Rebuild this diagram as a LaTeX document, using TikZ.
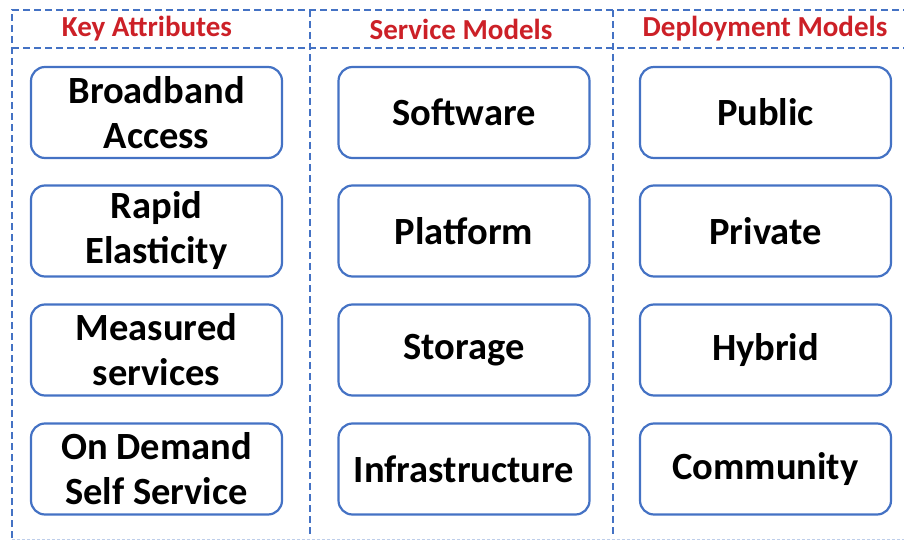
\documentclass[tikz,border=0pt]{standalone}
\usepackage{fontspec}
\setmainfont{Carlito}
\usetikzlibrary{positioning}

\definecolor{frameblue}{RGB}{68,114,196}
\definecolor{headred}{RGB}{204,32,39}

\begin{document}
\begin{tikzpicture}[x=1pt,y=-1pt,
                    item/.style={draw=frameblue,line width=2.2pt,rounded corners=14pt,minimum width=251pt,minimum height=91pt,
                                 align=center,font=\fontsize{38.5}{45}\selectfont\bfseries},
                    heading/.style={text=headred,font=\fontsize{29}{33}\selectfont\bfseries},
                    divider/.style={draw=frameblue,line width=2.3pt,dash pattern=on 7pt off 4pt},
                   ]
  \useasboundingbox (0,0) rectangle (904,540);

  % frame and column dividers
  \draw[divider] (12,538) -- (12,10) -- (904,10);
  \draw[divider] (12,48) -- (904,48);
  \draw[divider] (310,10) -- (310,536);
  \draw[divider] (613,10) -- (613,536);
  \draw[draw=frameblue!35,line width=1pt,dash pattern=on 3pt off 2pt] (12,539) -- (904,539);

  \node[heading] (attributes) at (147,29) {Key Attributes};
  \node[heading] (service) at (461,29) {Service Models};
  \node[heading] (deployment) at (765,29) {Deployment Models};

  \node[item] (broadband) at (156.5,112.5) {Broadband\\Access};
  \node[item] (elasticity) at (156.5,231) {Rapid\\Elasticity};
  \node[item] (measured) at (156.5,350) {Measured\\services};
  \node[item] (ondemand) at (156.5,469) {On Demand\\Self Service};

  \node[item] (software) at (464,112.5) {Software};
  \node[item] (platform) at (464,231) {Platform};
  \node[item] (storage) at (464,350) {Storage};
  \node[item] (infrastructure) at (464,469) {Infrastructure};

  \node[item] (public) at (765.5,112.5) {Public};
  \node[item] (private) at (765.5,231) {Private};
  \node[item] (hybrid) at (765.5,350) {Hybrid};
  \node[item] (community) at (765.5,469) {Community};
\end{tikzpicture}
\end{document}
